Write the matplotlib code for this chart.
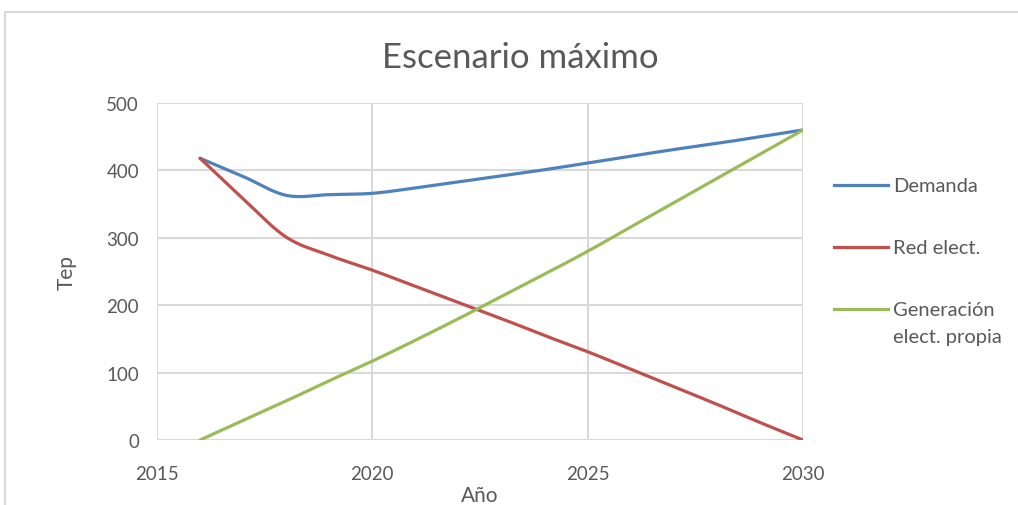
import numpy as np
import matplotlib.pyplot as plt
from matplotlib.lines import Line2D
from matplotlib.patches import Rectangle

plt.rcParams['font.family'] = ['Lato', 'DejaVu Sans']

years = [2016, 2017, 2018, 2019, 2020, 2021, 2022, 2023, 2024, 2025,
         2026, 2027, 2028, 2029, 2030]
demanda = [418, 391, 363, 364, 366, 374, 383, 392, 401, 411,
           421, 431, 440, 450, 460]
red_elect = [418, 358, 301, 274, 252, 228, 204, 180, 155, 131,
             105, 79, 53, 26, 0]
generacion = [0, 29, 58, 88, 117, 148, 180, 213, 246, 280,
              316, 352, 388, 424, 460]

series_names = ["Demanda", "Red elect.", "Generación\nelect. propia"]
series_colors = ["#4F81BD", "#C0504D", "#9BBB59"]

grey_text = "#595959"
grid_col = "#D9D9D9"


def smooth(x, y, n=30):
    # Excel-like smoothed line: cubic Bezier with Catmull-Rom control points
    x = np.asarray(x, float)
    y = np.asarray(y, float)
    px = np.concatenate([[x[0]], x, [x[-1]]])
    py = np.concatenate([[y[0]], y, [y[-1]]])
    xs, ys = [], []
    t = np.linspace(0, 1, n)
    for i in range(1, len(px) - 2):
        p0 = np.array([px[i], py[i]])
        p3 = np.array([px[i + 1], py[i + 1]])
        c1 = p0 + (p3 - np.array([px[i - 1], py[i - 1]])) / 6
        c2 = p3 - (np.array([px[i + 2], py[i + 2]]) - p0) / 6
        pts = ((1 - t) ** 3)[:, None] * p0 + (3 * (1 - t) ** 2 * t)[:, None] * c1 \
            + (3 * (1 - t) * t ** 2)[:, None] * c2 + (t ** 3)[:, None] * p3
        xs.extend(pts[:, 0])
        ys.extend(pts[:, 1])
    return xs, ys


fig = plt.figure(figsize=(10.18, 5.06), dpi=100)
fig.add_artist(Rectangle((5 / 1018, -0.1), 1.2, 1 - 13 / 506 + 0.1,
                         transform=fig.transFigure, fill=False,
                         edgecolor=grid_col, linewidth=1.5))

ax = fig.add_axes([157 / 1018, 1 - 441 / 506, 646 / 1018, 337 / 506])

for vals, col in zip([demanda, red_elect, generacion], series_colors):
    sx, sy = smooth(years, vals)
    ax.plot(sx, sy, color=col, linewidth=2.3, solid_capstyle='round', zorder=3)

ax.set_xlim(2015, 2030)
ax.set_ylim(0, 500)
ax.set_xticks([2015, 2020, 2025, 2030])
ax.set_yticks(range(0, 501, 100))
ax.grid(True, color=grid_col, linewidth=1.5)
ax.set_axisbelow(True)
for s in ax.spines.values():
    s.set_visible(False)
ax.tick_params(length=0, labelsize=13.5, colors=grey_text)
ax.tick_params(axis='y', pad=13)
ax.tick_params(axis='x', pad=18)

fig.text(520 / 1018, 1 - 58 / 506, "Escenario máximo", fontsize=25,
         color=grey_text, ha='center', va='center')
ax.set_ylabel("Tep", fontsize=15, color=grey_text, labelpad=21)
ax.set_xlabel("Año", fontsize=15, color=grey_text, labelpad=2)

# legend drawn by hand to mimic Excel placement
leg_y = [186, 248, 310]
for name, col, yy in zip(series_names, series_colors, leg_y):
    fy = 1 - yy / 506
    fig.add_artist(Line2D([834 / 1018, 888 / 1018], [fy, fy], color=col,
                          linewidth=2.3, transform=fig.transFigure))
    lines = name.split('\n')
    fig.text(893 / 1018, fy, lines[0], fontsize=14.5, color=grey_text,
             va='center', ha='left')
    if len(lines) > 1:
        fig.text(893 / 1018, 1 - 338 / 506, lines[1], fontsize=14.5,
                 color=grey_text, va='center', ha='left')

fig.savefig("out.png", dpi=100)
